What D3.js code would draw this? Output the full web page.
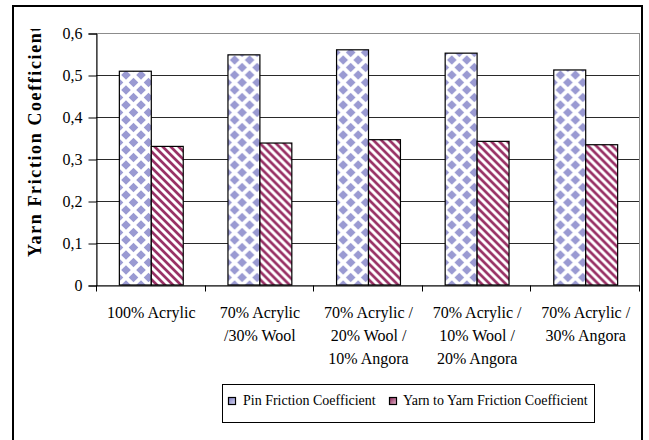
<!DOCTYPE html>
<html>
<head>
<meta charset="utf-8">
<script src="https://cdn.jsdelivr.net/npm/d3@7"></script>
<style>
  html, body { margin: 0; padding: 0; background: #fff; }
  svg { display: block; }
  svg text { font-family: "Liberation Serif", "Times New Roman", serif; fill: #000; }
</style>
</head>
<body>
<svg id="chart" width="649" height="440"></svg>
<script>
// Yarn blends
const categories = [
  ["100% Acrylic"],
  ["70% Acrylic", "/30% Wool"],
  ["70% Acrylic /", "20% Wool /", "10% Angora"],
  ["70% Acrylic /", "10% Wool /", "20% Angora"],
  ["70% Acrylic /", "30% Angora"]
];
const seriesNames = ["Pin Friction Coefficient", "Yarn to Yarn Friction Coefficient"];
const pinFriction = [0.509, 0.548, 0.560, 0.552, 0.512];
const yarnFriction = [0.330, 0.338, 0.346, 0.342, 0.334];
const yTicks = [0, 0.1, 0.2, 0.3, 0.4, 0.5, 0.6];
const yTitle = "Yarn Friction Coefficient";

const SERIF = "'Liberation Serif', 'Times New Roman', serif";
const svg = d3.select("#chart");
const plot = { left: 96, right: 639, top: 33, bottom: 285 };

// Fill patterns
const defs = svg.append("defs");
const soft = defs.append("filter").attr("id", "soft")
  .attr("x", "-20%").attr("y", "-20%").attr("width", "140%").attr("height", "140%");
soft.append("feGaussianBlur").attr("stdDeviation", 0.45);

const pinPat = defs.append("pattern").attr("id", "pinPat")
  .attr("patternUnits", "userSpaceOnUse").attr("width", 15).attr("height", 15);
pinPat.append("rect").attr("width", 15).attr("height", 15).attr("fill", "#fff");
const dg = pinPat.append("g").attr("fill", "#9a9ad2").attr("filter", "url(#soft)");
const r = 4.8;
[[0, 0], [15, 0], [0, 15], [15, 15], [7.5, 7.5]].forEach(([cx, cy]) => {
  dg.append("polygon").attr("points",
    `${cx},${cy - r} ${cx + r},${cy} ${cx},${cy + r} ${cx - r},${cy}`);
});

const yarnPat = defs.append("pattern").attr("id", "yarnPat")
  .attr("patternUnits", "userSpaceOnUse").attr("width", 8).attr("height", 8);
yarnPat.append("rect").attr("width", 8).attr("height", 8).attr("fill", "#fff");
const sg = yarnPat.append("g").attr("stroke", "#993366").attr("stroke-width", 2.6)
  .attr("filter", "url(#soft)");
sg.append("line").attr("x1", -1).attr("y1", -1).attr("x2", 9).attr("y2", 9);
sg.append("line").attr("x1", -1).attr("y1", 7).attr("x2", 1).attr("y2", 9);
sg.append("line").attr("x1", 7).attr("y1", -1).attr("x2", 9).attr("y2", 1);

const gPin = defs.append("linearGradient").attr("id", "legPin")
  .attr("x1", 0).attr("y1", 0).attr("x2", 1).attr("y2", 1);
gPin.append("stop").attr("offset", "0%").attr("stop-color", "#7c7cc4");
gPin.append("stop").attr("offset", "100%").attr("stop-color", "#d8d8f0");
const gYarn = defs.append("linearGradient").attr("id", "legYarn")
  .attr("x1", 0).attr("y1", 0).attr("x2", 1).attr("y2", 1);
gYarn.append("stop").attr("offset", "0%").attr("stop-color", "#8a2457");
gYarn.append("stop").attr("offset", "100%").attr("stop-color", "#e6b8cc");

const clip = defs.append("clipPath").attr("id", "titleClip");
clip.append("rect").attr("x", 0).attr("y", 29).attr("width", 90).attr("height", 300);

// Outer frame
svg.append("rect").attr("x", 13).attr("y", 6).attr("width", 629).attr("height", 500)
  .attr("fill", "none").attr("stroke", "#000").attr("stroke-width", 2);

// Scales
const x0 = d3.scaleBand().domain(d3.range(categories.length))
  .range([plot.left, plot.right]).paddingInner(0).paddingOuter(0);
const bw = x0.bandwidth();
const barW = bw / 3.4;
const x1 = d3.scaleBand().domain([0, 1])
  .range([bw / 2 - barW + 1, bw / 2 + barW + 1]).padding(0);
const y = d3.scaleLinear().domain([0, 0.6]).range([plot.bottom, plot.top]);

// Plot area border and gridlines
svg.append("rect").attr("x", plot.left + 0.5).attr("y", plot.top + 0.5)
  .attr("width", plot.right - plot.left).attr("height", plot.bottom - plot.top)
  .attr("fill", "none").attr("stroke", "#8c8c8c").attr("stroke-width", 1);

svg.append("g").selectAll("line")
  .data(yTicks.filter(t => t > 0 && t < 0.6))
  .join("line")
  .attr("x1", plot.left).attr("x2", plot.right)
  .attr("y1", d => Math.round(y(d)) + 0.5).attr("y2", d => Math.round(y(d)) + 0.5)
  .attr("stroke", "#2a2a2a").attr("stroke-width", 1);

// Bars
const rows = categories.map((c, i) => [
  { s: 0, i, v: pinFriction[i] },
  { s: 1, i, v: yarnFriction[i] }
]);
svg.append("g").selectAll("g").data(rows).join("g")
  .attr("transform", (d, i) => `translate(${x0(i)},0)`)
  .selectAll("rect").data(d => d).join("rect")
  .attr("x", d => x1(d.s))
  .attr("y", d => y(d.v))
  .attr("width", x1.bandwidth())
  .attr("height", d => y(0) - y(d.v))
  .attr("fill", d => d.s === 0 ? "url(#pinPat)" : "url(#yarnPat)")
  .attr("stroke", "#000").attr("stroke-width", 1.2);

// Y axis
const yAxis = d3.axisLeft(y).tickValues(yTicks).tickSize(8).tickPadding(6)
  .tickFormat(d => d === 0 ? "0" : d3.format(".1f")(d).replace(".", ","));
const ya = svg.append("g").attr("transform", `translate(${plot.left + 0.5},0.5)`).call(yAxis)
  .attr("font-family", SERIF);
ya.select(".domain").attr("stroke", "#000");
ya.selectAll(".tick line").attr("stroke", "#000");
ya.selectAll(".tick text").attr("font-size", 16)
  .attr("font-family", SERIF).attr("dy", "0.34em");

// X axis
const xAxis = d3.axisBottom(x0).tickSize(0).tickFormat("");
const xa = svg.append("g").attr("transform", `translate(0,${plot.bottom + 0.5})`).call(xAxis);
xa.select(".domain").attr("stroke", "#000");
xa.append("g").selectAll("line")
  .data(d3.range(categories.length + 1))
  .join("line")
  .attr("x1", i => Math.round(plot.left + i * bw) + 0.5)
  .attr("x2", i => Math.round(plot.left + i * bw) + 0.5)
  .attr("y1", 0).attr("y2", 6).attr("stroke", "#000");

// Category labels
const lab = svg.append("g").selectAll("text").data(categories).join("text")
  .attr("text-anchor", "middle")
  .attr("font-family", SERIF)
  .attr("font-size", 16)
  .attr("transform", (d, i) => `translate(${x0(i) + bw / 2 + 1},318)`);
lab.selectAll("tspan").data(d => d).join("tspan")
  .attr("x", 0).attr("y", (d, j) => j * 23)
  .text(d => d);

// Y axis title
svg.append("g").attr("clip-path", "url(#titleClip)")
  .append("text")
  .attr("transform", "translate(41,257) rotate(-90)")
  .attr("font-family", SERIF)
  .attr("font-size", 18).attr("font-weight", "bold")
  .attr("letter-spacing", 1.6)
  .text(yTitle);

// Legend
const leg = svg.append("g");
leg.append("rect").attr("x", 222.5).attr("y", 384.5).attr("width", 372).attr("height", 38)
  .attr("fill", "#fff").attr("stroke", "#000").attr("stroke-width", 1);
const legItems = [
  { name: seriesNames[0], fill: "url(#legPin)", sx: 228, tx: 243 },
  { name: seriesNames[1], fill: "url(#legYarn)", sx: 389, tx: 403 }
];
legItems.forEach(it => {
  leg.append("rect").attr("x", it.sx + 0.5).attr("y", 397.5).attr("width", 7).attr("height", 7)
    .attr("fill", it.fill).attr("stroke", "#000").attr("stroke-width", 1.2);
  leg.append("text").attr("x", it.tx).attr("y", 405)
    .attr("font-family", SERIF)
    .attr("font-size", 14).text(it.name);
});
</script>
</body>
</html>
